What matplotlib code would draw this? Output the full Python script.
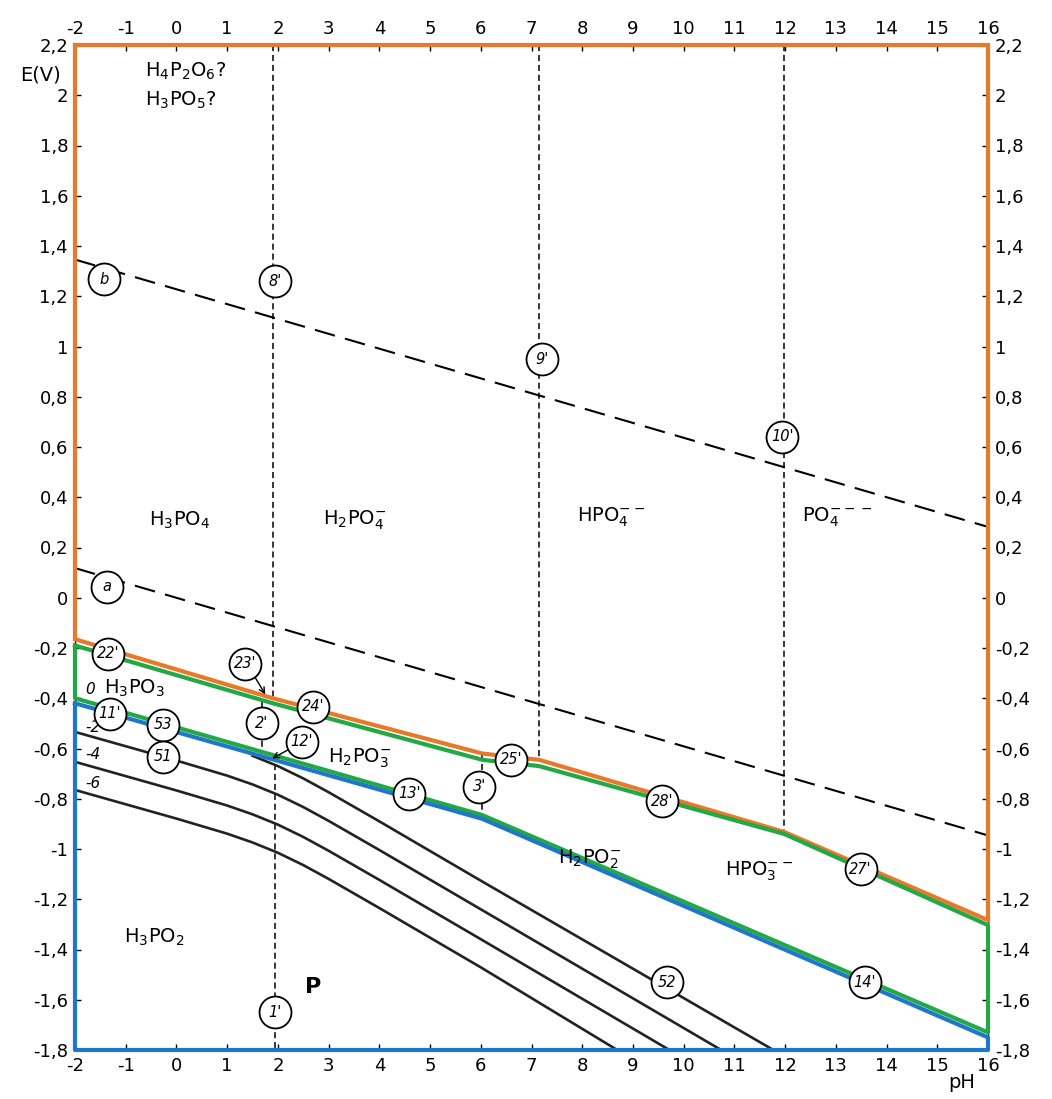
import matplotlib.pyplot as plt

# axes ticks
ph_ticks = list(range(-2, 17))
e_ticks = [2.2, 2.0, 1.8, 1.6, 1.4, 1.2, 1.0, 0.8, 0.6, 0.4, 0.2, 0.0,
           -0.2, -0.4, -0.6, -0.8, -1.0, -1.2, -1.4, -1.6, -1.8]
e_labels = ['2,2', '2', '1,8', '1,6', '1,4', '1,2', '1', '0,8', '0,6', '0,4', '0,2', '0',
            '-0,2', '-0,4', '-0,6', '-0,8', '-1', '-1,2', '-1,4', '-1,6', '-1,8']

# water lines a and b
water_ph = [-2, 16]
line_a = [0.118, -0.946]
line_b = [1.346, 0.282]

# upper boundary (phosphates / phosphites)
upper_ph = [-2, 1.9, 6.03, 7.15, 11.98, 16]
upper_orange = [-0.165, -0.40, -0.62, -0.645, -0.932, -1.283]
upper_green = [-0.19, -0.42, -0.645, -0.67, -0.94, -1.303]

# lower boundary (phosphites / hypophosphites)
lower_ph = [-2, 6.03, 16]
lower_green = [-0.40, -0.865, -1.73]
lower_blue = [-0.42, -0.88, -1.75]

# P / H3PO2 lines for log c = 0, -2, -4, -6
p0_ph = [1.5, 2, 2.5, 3, 3.5, 4, 5, 6, 11.77]
p0_e = [-0.629, -0.670, -0.719, -0.774, -0.832, -0.890, -1.008, -1.126, -1.80]
curve_ph = [-2, -1, 0, 1, 1.5, 2, 2.5, 3, 3.5, 4, 5, 6]
pm2_ph = curve_ph + [10.74]
pm2_e = [-0.534, -0.591, -0.648, -0.708, -0.743, -0.784, -0.833, -0.888, -0.946, -1.004, -1.122, -1.240, -1.80]
pm4_ph = curve_ph + [9.72]
pm4_e = [-0.653, -0.710, -0.767, -0.827, -0.862, -0.903, -0.952, -1.007, -1.065, -1.123, -1.241, -1.359, -1.80]
pm6_ph = curve_ph + [8.69]
pm6_e = [-0.765, -0.822, -0.879, -0.939, -0.974, -1.015, -1.064, -1.119, -1.177, -1.235, -1.353, -1.471, -1.80]

# vertical acid/base lines: pH, E from, E to
vert_lines = [(1.9, 2.2, -0.40), (7.15, 2.2, -0.645), (11.98, 2.2, -0.932),
              (1.68, -0.41, -0.62), (6.03, -0.62, -0.88), (1.94, -0.66, -1.8)]

# circled line numbers
circles = [("b", -1.43, 1.267), ("a", -1.37, 0.044), ("8'", 1.94, 1.26), ("9'", 7.21, 0.95),
           ("10'", 11.94, 0.64), ("22'", -1.35, -0.223), ("23'", 1.35, -0.263),
           ("24'", 2.69, -0.434), ("2'", 1.68, -0.50), ("12'", 2.47, -0.574),
           ("11'", -1.31, -0.462), ("53", -0.27, -0.506), ("51", -0.27, -0.633),
           ("13'", 4.59, -0.78), ("3'", 5.97, -0.753), ("25'", 6.6, -0.645),
           ("28'", 9.57, -0.81), ("27'", 13.49, -1.08), ("14'", 13.57, -1.53),
           ("52", 9.67, -1.53), ("1'", 1.94, -1.65)]

# species labels
species = [(r'H$_3$PO$_4$', 0.07, 0.31), (r'H$_2$PO$_4^{-}$', 3.51, 0.31),
           (r'HPO$_4^{--}$', 8.57, 0.32), (r'PO$_4^{---}$', 13.02, 0.32),
           (r'H$_3$PO$_3$', -0.82, -0.36), (r'H$_2$PO$_3^{-}$', 3.61, -0.64),
           (r'H$_2$PO$_2^{-}$', 8.14, -1.04), (r'HPO$_3^{--}$', 11.48, -1.09),
           (r'H$_3$PO$_2$', -0.43, -1.35)]

conc_labels = [('0', -0.394), ('-2', -0.545), ('-4', -0.655), ('-6', -0.77)]

orange = '#E8792B'
green = '#23A846'
blue = '#1F77C9'

fig = plt.figure(figsize=(10.52, 10.99), dpi=100)
ax = fig.add_axes([75 / 1052, 49 / 1099, 913 / 1052, 1005 / 1099])
ax.set_xlim(-2, 16)
ax.set_ylim(-1.8, 2.2)

ax.set_xticks(ph_ticks)
ax.set_xticklabels([str(t) for t in ph_ticks])
ax.set_yticks(e_ticks)
ax.set_yticklabels(e_labels)
ax.tick_params(direction='in', length=4, width=1, labelsize=13,
               top=True, labeltop=True, right=True, labelright=True, pad=5)
for s in ax.spines.values():
    s.set_linewidth(1)

# water lines
ax.plot(water_ph, line_a, color='black', lw=1.5, ls=(0, (10, 5)), zorder=2)
ax.plot(water_ph, line_b, color='black', lw=1.5, ls=(0, (10, 5)), zorder=2)

# vertical dashed lines
for ph, e1, e2 in vert_lines:
    ax.plot([ph, ph], [e1, e2], color='black', lw=1.1, ls=(0, (4, 2.5)), zorder=2)

# P lines
ax.plot(p0_ph, p0_e, color='#222222', lw=1.9, zorder=3)
ax.plot(pm2_ph, pm2_e, color='#222222', lw=1.9, zorder=3)
ax.plot(pm4_ph, pm4_e, color='#222222', lw=1.9, zorder=3)
ax.plot(pm6_ph, pm6_e, color='#222222', lw=1.9, zorder=3)

# thin original boundary lines
ax.plot(upper_ph, upper_orange, color='black', lw=1, ls=(0, (2, 2)), zorder=3)
ax.plot(lower_ph, lower_blue, color='black', lw=1, ls=(0, (2, 2)), zorder=3)

# orange domain
ax.plot([-2] + upper_ph + [16, -2], [2.2] + upper_orange + [2.2, 2.2],
        color=orange, lw=3, zorder=4, clip_on=False, solid_joinstyle='miter')
# green domain
ax.plot(upper_ph + lower_ph[::-1] + [upper_ph[0]],
        upper_green + lower_green[::-1] + [upper_green[0]],
        color=green, lw=3, zorder=4, clip_on=False)
# blue domain
ax.plot(lower_ph + [16, -2, -2], lower_blue + [-1.8, -1.8, lower_blue[0]],
        color=blue, lw=3, zorder=5, clip_on=False)

# circled labels, same size for all
ax.scatter([c[1] for c in circles], [c[2] for c in circles], s=23 ** 2,
           facecolor='white', edgecolor='black', linewidth=1.3, zorder=7)
for txt, x, y in circles:
    ax.text(x, y, txt, ha='center', va='center', fontsize=10.5, style='italic', zorder=8)

ax.annotate('', xy=(1.78, -0.394), xytext=(1.5, -0.30),
            arrowprops=dict(arrowstyle='->', lw=1, color='black'), zorder=6)
ax.annotate('', xy=(1.84, -0.645), xytext=(2.25, -0.6),
            arrowprops=dict(arrowstyle='->', lw=1, color='black'), zorder=6)

for txt, x, y in species:
    ax.text(x, y, txt, ha='center', va='center', fontsize=14, zorder=6)

ax.text(-0.62, 2.096, r'H$_4$P$_2$O$_6$?', ha='left', va='center', fontsize=14)
ax.text(-0.62, 1.98, r'H$_3$PO$_5$?', ha='left', va='center', fontsize=14)
ax.text(2.69, -1.55, 'P', ha='center', va='center', fontsize=16, fontweight='bold')

for txt, y in conc_labels:
    ax.text(-1.8, y, txt, ha='left', va='bottom', fontsize=11, style='italic', zorder=6)

fig.text(40 / 1052, 1 - 75 / 1099, 'E(V)', ha='center', va='center', fontsize=14)
fig.text(962 / 1052, 1 - 1082 / 1099, 'pH', ha='center', va='center', fontsize=14)

fig.savefig('out.png', dpi=100)
